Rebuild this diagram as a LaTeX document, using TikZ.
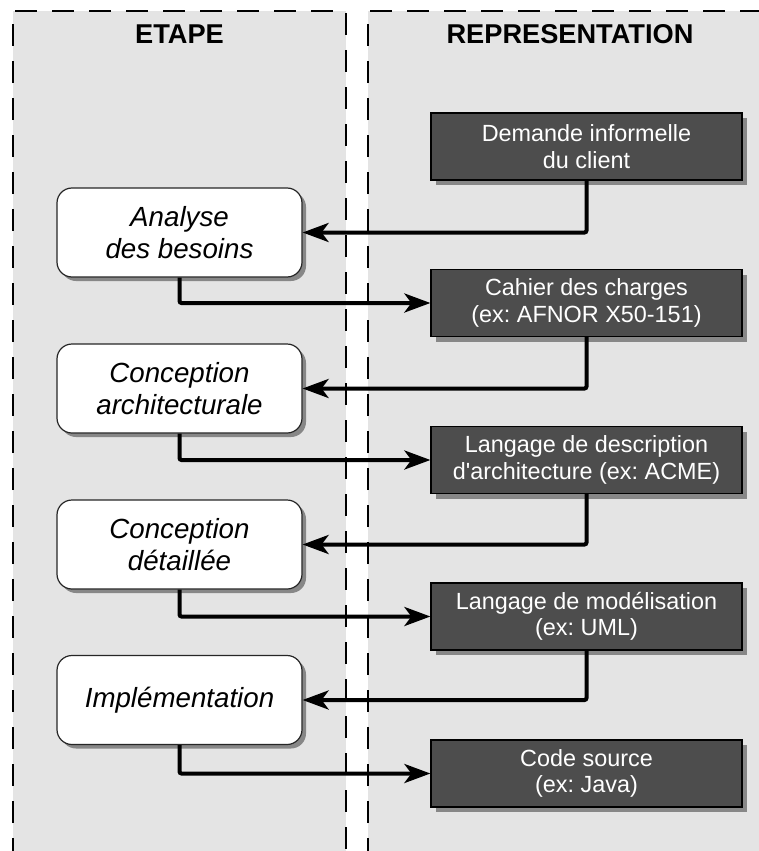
\documentclass[tikz,border=0pt]{standalone}
\usepackage{fontspec}
\setmainfont{Liberation Sans}
\usetikzlibrary{arrows.meta,shadows}
\definecolor{lanegray}{RGB}{228,228,228}
\definecolor{darkbox}{RGB}{77,77,77}
\definecolor{shadowgray}{RGB}{135,135,135}
\frenchspacing
\tikzset{
  lanedash/.style={line width=1.3pt, dash pattern=on 22pt off 15pt},
  header/.style={font=\fontsize{27.2}{31}\selectfont\bfseries},
  stepbox/.style={draw=black!85, line width=1.2pt, fill=white, rounded corners=15pt,
    minimum width=245pt, minimum height=89pt, inner sep=0pt, align=center,
    font=\fontsize{27.7}{32}\selectfont\itshape,
    drop shadow={shadow xshift=4pt, shadow yshift=-4pt, fill=shadowgray, opacity=1}},
  repbox/.style={draw=black, line width=1.2pt, fill=darkbox, text=white,
    minimum width=311pt, minimum height=67pt, inner sep=0pt, align=center,
    font=\fontsize{23.4}{26.5}\selectfont,
    drop shadow={shadow xshift=5pt, shadow yshift=-5pt, fill=shadowgray, opacity=1}},
  conn/.style={line width=4pt, rounded corners=2pt,
    -{Stealth[length=26pt, width=19pt, inset=7pt]}}
}
\begin{document}
\begin{tikzpicture}[x=1pt,y=-1pt]
\useasboundingbox (0,0) rectangle (759,851);
\clip (0,0) rectangle (759,851);
\fill[white] (0,0) rectangle (759,851);
% lanes
\fill[lanegray] (13,11) rectangle (346,860);
\draw[lanedash] (13,860) -- (13,11) -- (346,11) -- (346,860);
\fill[lanegray] (368,11) rectangle (775,860);
\draw[lanedash] (368,860) -- (368,11) -- (775,11);
\node[header] (hetape) at (179.5,34) {ETAPE};
\node[header] (hrep) at (570,34) {REPRESENTATION};
% representation boxes
\node[repbox] (r1) at (586.5,146.5) {Demande informelle\\du client};
\node[repbox] (r2) at (586.5,303) {Cahier des charges\\(ex: AFNOR X50-151)};
\node[repbox] (r3) at (586.5,460) {Langage de description\\d\textquotesingle architecture (ex: ACME)};
\node[repbox] (r4) at (586.5,616.5) {Langage de modélisation\\(ex: UML)};
\node[repbox] (r5) at (586.5,773.5) {Code source\\(ex: Java)};
% step boxes
\node[stepbox] (l1) at (179.5,232.5) {Analyse\\des besoins};
\node[stepbox] (l2) at (179.5,388.5) {Conception\\architecturale};
\node[stepbox] (l3) at (179.5,544.5) {Conception\\détaillée};
\node[stepbox] (l4) at (179.5,700) {Implémentation};
% connectors
\draw[conn] (r1.south) |- (l1.east);
\draw[conn] (l1.south) |- (r2.west);
\draw[conn] (r2.south) |- (l2.east);
\draw[conn] (l2.south) |- (r3.west);
\draw[conn] (r3.south) |- (l3.east);
\draw[conn] (l3.south) |- (r4.west);
\draw[conn] (r4.south) |- (l4.east);
\draw[conn] (l4.south) |- (r5.west);
\end{tikzpicture}
\end{document}
